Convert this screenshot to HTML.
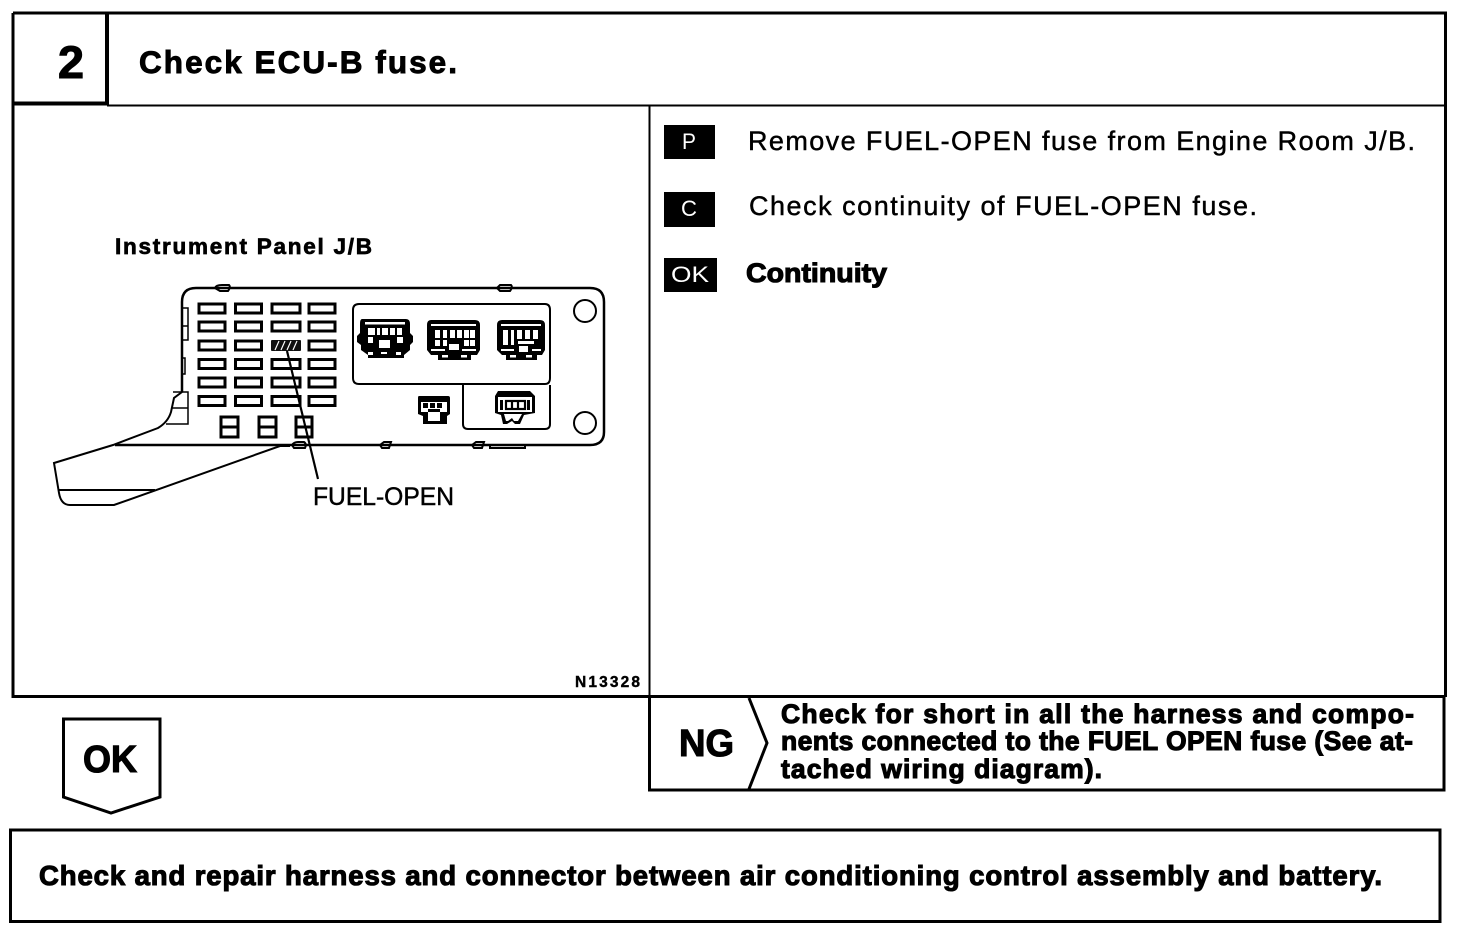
<!DOCTYPE html>
<html><head><meta charset="utf-8"><style>
html,body{margin:0;padding:0;background:#fff;width:1472px;height:936px;overflow:hidden}
svg{display:block}
text{font-family:"Liberation Sans",sans-serif;fill:#000}
.b{font-weight:bold;stroke:#000;stroke-width:1.1px}
.r{stroke:#000;stroke-width:.45px}
.l{fill:none;stroke:#000;stroke-width:3}
.d{fill:none;stroke:#000;stroke-width:2}
</style></head><body>
<svg width="1472" height="936" viewBox="0 0 1472 936" xmlns="http://www.w3.org/2000/svg">
<rect width="1472" height="936" fill="#fff"/>
<!-- frames -->
<path class="l" d="M13 13H1445.500V697M13 13V696.500H1444"/>
<path fill="none" stroke="#000" stroke-width="2" d="M107 105.500H1445M649.500 105V697"/>
<path fill="none" stroke="#000" stroke-width="4" d="M107 13V105M14 103.500H107"/>
<path class="l" d="M649.500 697V790H1444V697"/>
<path class="l" d="M63.500 719H160V797L111 813L63.500 797Z"/>
<path class="l" d="M10.500 830H1440V921.500H10.500Z"/>
<path class="l" d="M749 698L767 743L749 789"/>
<!-- header -->
<text x="58" y="78" font-size="45" class="b" textLength="26" lengthAdjust="spacingAndGlyphs">2</text>
<text x="139" y="73" font-size="31.500" class="b" style="stroke-width:.9px" textLength="318" lengthAdjust="spacing">Check ECU-B fuse.</text>
<!-- right panel -->
<rect x="664" y="125" width="51" height="34" fill="#000"/>
<rect x="664" y="192" width="51" height="35" fill="#000"/>
<rect x="664" y="258" width="53" height="34" fill="#000"/>
<text x="682" y="149" font-size="22" style="fill:#fff" textLength="14" lengthAdjust="spacingAndGlyphs">P</text>
<text x="681" y="216" font-size="22" style="fill:#fff" textLength="16" lengthAdjust="spacingAndGlyphs">C</text>
<text x="671" y="282" font-size="22" style="fill:#fff" textLength="38" lengthAdjust="spacingAndGlyphs">OK</text>
<text x="748" y="150" font-size="27" class="r" textLength="667" lengthAdjust="spacing">Remove FUEL-OPEN fuse from Engine Room J/B.</text>
<text x="749" y="215" font-size="27" class="r" textLength="508" lengthAdjust="spacing">Check continuity of FUEL-OPEN fuse.</text>
<text x="746" y="282" font-size="27" class="b" textLength="141" lengthAdjust="spacingAndGlyphs">Continuity</text>
<!-- NG -->
<text x="679" y="756" font-size="38" class="b" textLength="55" lengthAdjust="spacingAndGlyphs">NG</text>
<text x="781" y="723" font-size="26.500" class="b" textLength="633" lengthAdjust="spacing">Check for short in all the harness and compo-</text>
<text x="781" y="750" font-size="26.500" class="b" textLength="632" lengthAdjust="spacing">nents connected to the FUEL OPEN fuse (See at-</text>
<text x="781" y="778" font-size="26.500" class="b" textLength="321" lengthAdjust="spacing">tached wiring diagram).</text>
<!-- OK -->
<text x="83" y="772" font-size="38" class="b" textLength="54" lengthAdjust="spacingAndGlyphs">OK</text>
<!-- bottom -->
<text x="39" y="885" font-size="27.500" class="b" textLength="1343" lengthAdjust="spacing">Check and repair harness and connector between air conditioning control assembly and battery.</text>
<!-- left labels -->
<text x="115" y="254" font-size="22.500" class="b" style="stroke-width:.7px" textLength="257" lengthAdjust="spacing">Instrument Panel J/B</text>
<text x="313" y="505" font-size="25" class="r" textLength="141" lengthAdjust="spacingAndGlyphs">FUEL-OPEN</text>
<text x="575" y="687" font-size="15.500" class="b" style="stroke-width:.4px" textLength="65" lengthAdjust="spacing">N13328</text>
<!-- J/B body -->
<path class="d" style="stroke-width:2.500" d="M182 392V302Q182 288 196 288H590Q604 288 604 302V432Q604 445 590 445H115"/>
<path class="d" d="M182 392L174 398L171 412Q168 422 158 428L113 445L54 463L59 493Q61 505 70 505H114L280 446H290M59 490H155"/>
<path class="d" style="stroke-width:1.500" d="M173 392H188V424H166M172 408H188M182 308H188V326H182M188 326V340H182M182 358H185V374H182"/>
<!-- tabs -->
<path class="d" d="M215 288Q216 285 222 285H229Q231 287 228 291H220ZM497 288L500 285H511Q513 287 510 291H500ZM292 445Q294 442 298 442H304Q307 444 305 448H294ZM380 445L384 442H391L389 448H382ZM472 445L476 442H484L482 448H474ZM490 445V448H525V445M412 288H432M520 288H535"/>
<!-- fuses -->
<g fill="#fff" stroke="#000" stroke-width="3">
<rect x="199" y="304" width="26" height="9"/><rect x="235.500" y="304" width="26" height="9"/><rect x="272" y="304" width="28" height="9"/><rect x="309" y="304" width="26" height="9"/>
<rect x="199" y="322" width="26" height="9"/><rect x="235.500" y="322" width="26" height="9"/><rect x="272" y="322" width="28" height="9"/><rect x="309" y="322" width="26" height="9"/>
<rect x="199" y="341" width="26" height="9"/><rect x="235.500" y="341" width="26" height="9"/><rect x="309" y="341" width="26" height="9"/>
<rect x="199" y="359.500" width="26" height="9"/><rect x="235.500" y="359.500" width="26" height="9"/><rect x="272" y="359.500" width="28" height="9"/><rect x="309" y="359.500" width="26" height="9"/>
<rect x="199" y="378" width="26" height="9"/><rect x="235.500" y="378" width="26" height="9"/><rect x="272" y="378" width="28" height="9"/><rect x="309" y="378" width="26" height="9"/>
<rect x="199" y="396.500" width="26" height="9"/><rect x="235.500" y="396.500" width="26" height="9"/><rect x="272" y="396.500" width="28" height="9"/><rect x="309" y="396.500" width="26" height="9"/>
<path d="M221 417H238V437H221ZM221 427H238M259 417H276V437H259ZM259 427H276M296 417H312V437H296ZM296 427H312"/>
</g>
<rect x="271" y="340" width="30" height="11" rx="1" fill="#111"/>
<path d="M275 350L279 341M281 350L285 341M287 350L291 341M293 350L297 341" stroke="#fff" stroke-width="1.200"/>
<path d="M287 351L318 479" stroke="#000" stroke-width="2.200"/>
<!-- housings -->
<path class="d" d="M353 310Q353 304 359 304H545Q550 304 550 310V378Q550 384 545 384H359Q353 384 353 378ZM463 385V424Q463 429 468 429H545Q550 429 550 424V385"/>
<circle cx="585" cy="311" r="11" class="d"/><circle cx="585" cy="423" r="11" class="d"/>
<!-- connector 1 -->
<path fill="#000" d="M362 319H406Q410 319 410 324V333L413 336V342L410 345V350L404 355V358H368V355L361 350V345L357 342V336L360 333V324Q360 319 362 319Z"/>
<g fill="#fff">
<rect x="365" y="322" width="40" height="2.500"/>
<rect x="368" y="328" width="7" height="7"/><rect x="377" y="328" width="3" height="7"/><rect x="382" y="328" width="6" height="7"/><rect x="390" y="328" width="5" height="7"/><rect x="397" y="328" width="5" height="7"/>
<rect x="368" y="337" width="5" height="6"/><rect x="397" y="337" width="6" height="6"/>
<rect x="379" y="340" width="11" height="8"/>
<rect x="368" y="352" width="5" height="3"/><rect x="381" y="352" width="6" height="2"/><rect x="396" y="352" width="5" height="3"/>
</g>
<!-- connector 2 -->
<path fill="#000" d="M431 320H475Q480 320 480 325V350L477 355H471V360H438V355H431L427 350V325Q427 320 431 320Z"/>
<g fill="#fff">
<rect x="431" y="324" width="45" height="2"/>
<rect x="435" y="330" width="5" height="8"/><rect x="443" y="330" width="4" height="8"/><rect x="450" y="330" width="5" height="8"/><rect x="457" y="330" width="5" height="8"/><rect x="464" y="330" width="5" height="8"/><rect x="470" y="330" width="5" height="8"/>
<rect x="435" y="340" width="5" height="6"/><rect x="443" y="340" width="4" height="6"/><rect x="464" y="340" width="5" height="6"/><rect x="470" y="340" width="5" height="6"/>
<rect x="449" y="344" width="10" height="6"/>
<rect x="431" y="349" width="14" height="2"/><rect x="462" y="349" width="14" height="2"/>
<rect x="442" y="355" width="6" height="2.500"/><rect x="461" y="355" width="6" height="2.500"/>
</g>
<!-- connector 3 -->
<path fill="#000" d="M502 320H540Q545 320 545 325V350L542 355H537V360H506V355H502L497 350V325Q497 320 502 320Z"/>
<g fill="#fff">
<rect x="501" y="324" width="40" height="2"/>
<rect x="503" y="330" width="5" height="15"/><rect x="511" y="330" width="3" height="15"/><rect x="517" y="330" width="5" height="9"/><rect x="525" y="330" width="5" height="9"/><rect x="533" y="330" width="5" height="9"/>
<rect x="518" y="341" width="16" height="3"/>
<rect x="519" y="346" width="9" height="6"/>
<rect x="501" y="349" width="13" height="2"/><rect x="532" y="349" width="9" height="2"/>
<rect x="510" y="355" width="6" height="2.500"/><rect x="526" y="355" width="6" height="2.500"/>
</g>
<!-- small connector -->
<path fill="#000" d="M419 396H448Q450 396 450 398V414L447 416V424H423V416L418 414V398Q418 396 419 396Z"/>
<g fill="#fff">
<rect x="421" y="402" width="26" height="10"/>
<rect x="428" y="412" width="12" height="9"/>
</g>
<g fill="#000"><rect x="423" y="403" width="5" height="5"/><rect x="430" y="403" width="5" height="5"/><rect x="437" y="403" width="5" height="5"/><rect x="428" y="409" width="12" height="3"/></g>
<!-- right connector -->
<path fill="#000" d="M498 391H530L535 396V413L524 415L520 424H515L512 421L507 424H503L501 415L495 413V396Z"/>
<g fill="#fff">
<rect x="498" y="397" width="34" height="15"/>
<path d="M504 414H522L518 421H514L512 418L508 421H506Z"/>
</g>
<rect x="500" y="400" width="3" height="10" fill="#000"/><rect x="527" y="400" width="3" height="10" fill="#000"/>
<g fill="none" stroke="#000" stroke-width="2.200"><rect x="506" y="401" width="19" height="8"/><path d="M512 401V409M518 401V409"/></g>
</svg>
</body></html>
